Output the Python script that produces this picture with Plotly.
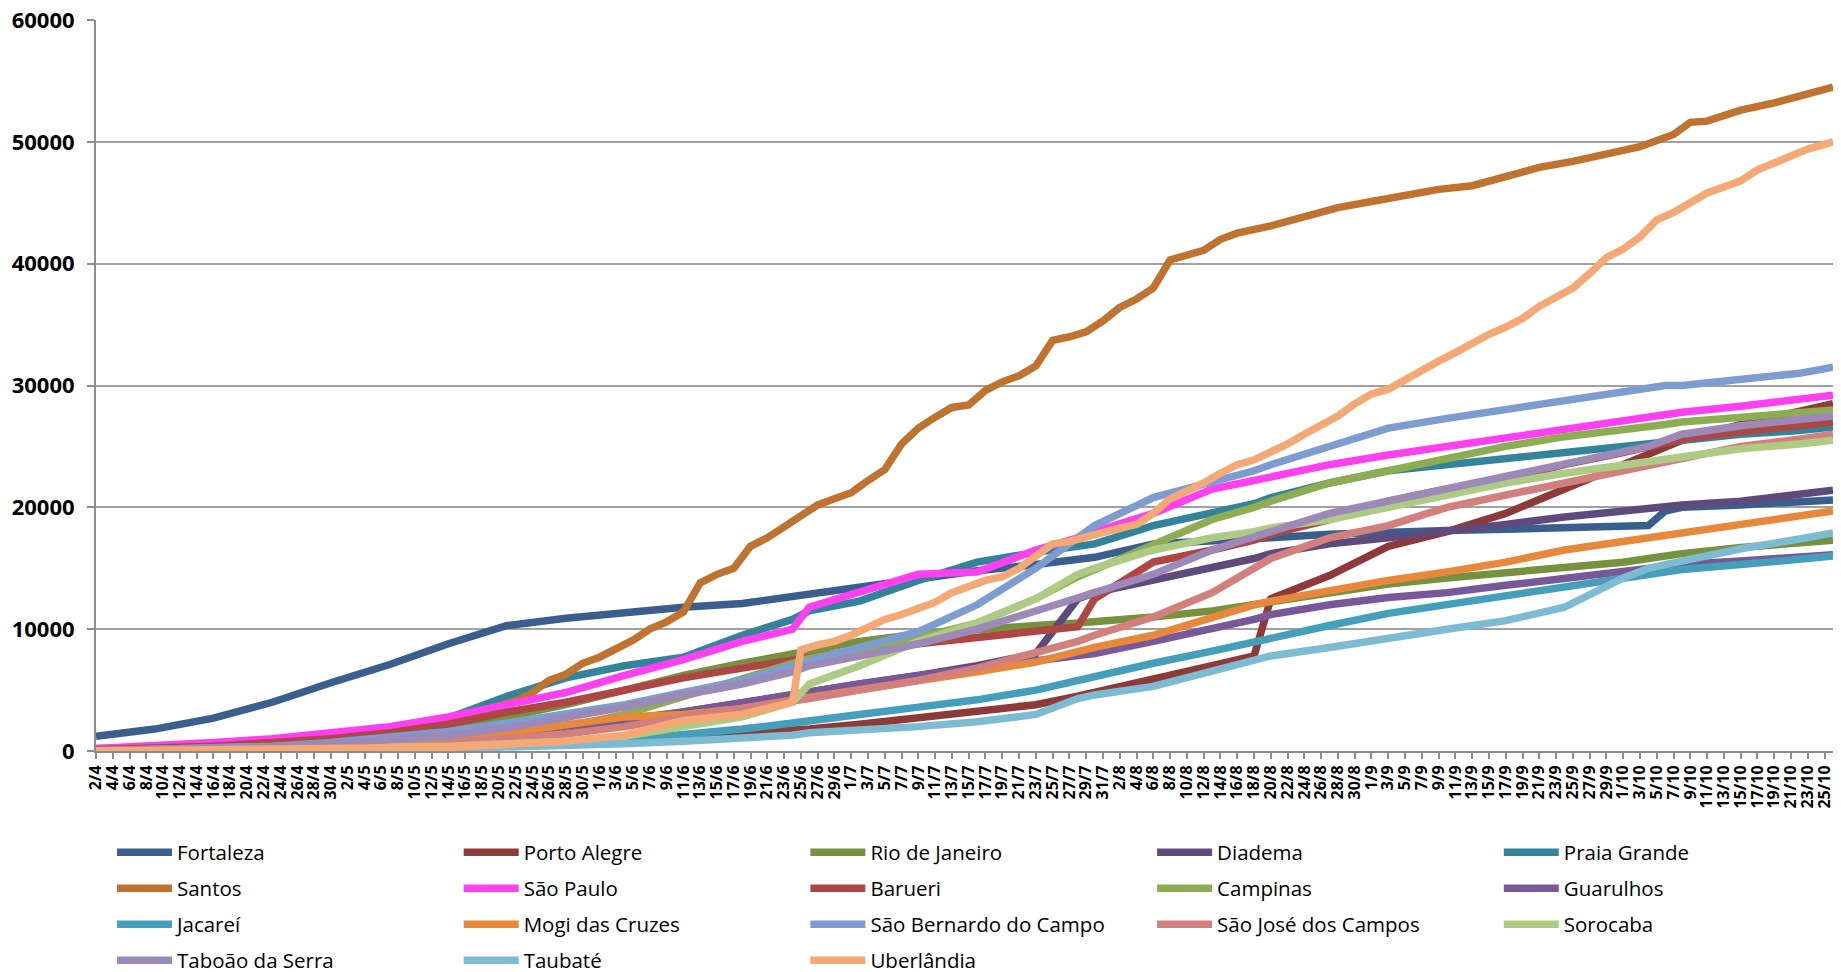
import pandas as pd
import plotly.graph_objects as go

# ---- categories (daily, 2/4 .. 26/10) ----
days = pd.date_range("2020-04-02", "2020-10-26", freq="D")
categories = [f"{d.day}/{d.month}" for d in days]
tick_labels = categories[::2]

sample_dates = ["2/4", "9/4", "16/4", "23/4", "30/4", "7/5", "14/5", "21/5", "28/5", "4/6",
                "11/6", "18/6", "24/6", "26/6", "2/7", "9/7", "16/7", "23/7", "28/7", "30/7",
                "6/8", "13/8", "18/8", "20/8", "27/8", "3/9", "10/9", "17/9", "24/9", "1/10",
                "4/10", "6/10", "8/10", "15/10", "22/10", "26/10"]

santos_dates = ["2/4", "16/4", "30/4", "6/5", "12/5", "16/5", "20/5", "22/5", "24/5", "26/5",
                "28/5", "30/5", "1/6", "3/6", "5/6", "7/6", "9/6", "11/6", "13/6", "15/6",
                "17/6", "19/6", "21/6", "23/6", "25/6", "27/6", "29/6", "1/7", "3/7", "5/7",
                "7/7", "9/7", "11/7", "13/7", "15/7", "17/7", "19/7", "21/7", "23/7", "25/7",
                "27/7", "29/7", "31/7", "2/8", "4/8", "6/8", "8/8", "10/8", "12/8", "14/8",
                "16/8", "20/8", "24/8", "28/8", "1/9", "5/9", "9/9", "13/9", "17/9", "21/9",
                "25/9", "29/9", "3/10", "7/10", "9/10", "11/10", "13/10", "15/10", "19/10", "23/10",
                "26/10"]
santos = [200, 400, 1000, 1300, 2100, 2900, 3600, 4100, 4800, 5800,
          6300, 7200, 7700, 8400, 9100, 10000, 10600, 11400, 13800, 14500,
          15000, 16800, 17500, 18400, 19300, 20200, 20700, 21200, 22200, 23100,
          25200, 26500, 27400, 28200, 28400, 29600, 30300, 30800, 31600, 33700,
          34000, 34400, 35300, 36400, 37100, 38000, 40300, 40700, 41100, 42000,
          42500, 43100, 43900, 44600, 45100, 45600, 46100, 46400, 47200, 47900,
          48400, 49000, 49600, 50600, 51600, 51700, 52200, 52600, 53200, 53900,
          54500]

uberlandia_dates = ["2/4", "16/4", "30/4", "14/5", "28/5", "4/6", "11/6", "18/6", "24/6", "25/6",
                    "27/6", "29/6", "1/7", "3/7", "5/7", "7/7", "9/7", "11/7", "13/7", "15/7",
                    "17/7", "19/7", "21/7", "23/7", "25/7", "27/7", "29/7", "31/7", "2/8", "4/8",
                    "6/8", "8/8", "10/8", "12/8", "14/8", "16/8", "18/8", "20/8", "22/8", "24/8",
                    "26/8", "28/8", "30/8", "1/9", "3/9", "5/9", "7/9", "9/9", "11/9", "13/9",
                    "15/9", "17/9", "19/9", "21/9", "23/9", "25/9", "27/9", "29/9", "1/10", "3/10",
                    "5/10", "7/10", "9/10", "11/10", "13/10", "15/10", "17/10", "19/10", "21/10", "23/10",
                    "26/10"]
uberlandia = [0, 50, 100, 300, 800, 1300, 2500, 3000, 4000, 8300,
              8700, 9000, 9500, 10200, 10800, 11200, 11700, 12200, 13000, 13500,
              14000, 14300, 15000, 16000, 17000, 17200, 17600, 18000, 18300, 18600,
              19500, 20700, 21300, 22000, 22800, 23500, 23900, 24500, 25200, 26000,
              26700, 27500, 28500, 29300, 29700, 30500, 31300, 32000, 32700, 33500,
              34200, 34800, 35500, 36500, 37300, 38000, 39200, 40500, 41200, 42200,
              43600, 44200, 45000, 45800, 46300, 46800, 47700, 48300, 48800, 49400,
              50000]

names = ["Fortaleza", "Porto Alegre", "Rio de Janeiro", "Diadema", "Praia Grande",
         "Santos", "São Paulo", "Barueri", "Campinas", "Guarulhos",
         "Jacareí", "Mogi das Cruzes", "São Bernardo do Campo", "São José dos Campos", "Sorocaba",
         "Taboão da Serra", "Taubaté", "Uberlândia"]

fortaleza = [1200, 1800, 2700, 4000, 5600, 7100, 8800, 10300, 10900, 11400, 11800, 12100, 12700, 12900, 13400, 14200, 14800, 15300, 15700, 15900, 17000, 17200, 17400, 17500, 17800, 18000, 18100, 18200, 18300, 18400, 18500, 19700, 20000, 20200, 20400, 20600]
porto_alegre = [0, 0, 50, 100, 150, 200, 300, 400, 600, 800, 1100, 1400, 1700, 1800, 2200, 2700, 3200, 3800, 4500, 4800, 5800, 7000, 7800, 12500, 14400, 16800, 18000, 19500, 21500, 23500, 24300, 25000, 25500, 26800, 27800, 28500]
rio = [100, 200, 300, 500, 800, 1200, 1800, 2800, 3800, 5000, 6200, 7200, 8000, 8300, 9000, 9600, 10000, 10300, 10500, 10600, 11000, 11500, 12000, 12200, 13000, 13700, 14200, 14600, 15000, 15500, 15800, 16000, 16200, 16700, 17000, 17300]
diadema = [0, 50, 100, 200, 400, 600, 900, 1300, 1800, 2400, 3200, 4000, 4600, 4800, 5500, 6200, 7000, 8000, 12500, 13000, 14000, 15000, 15800, 16200, 17000, 17500, 18000, 18600, 19200, 19700, 20000, 20000, 20200, 20500, 21000, 21400]
praia_grande = [100, 200, 400, 700, 1100, 1700, 2700, 4500, 6000, 7000, 7700, 9500, 10800, 11500, 12300, 14000, 15500, 16300, 16800, 17000, 18500, 19500, 20300, 20800, 22000, 23000, 23500, 24000, 24600, 25000, 25200, 25400, 25500, 26000, 26300, 26600]
sao_paulo = [200, 400, 700, 1000, 1500, 2000, 2800, 3800, 4800, 6200, 7500, 9000, 10000, 11800, 13000, 14500, 14700, 16500, 17500, 18000, 19500, 21500, 22200, 22500, 23500, 24300, 25000, 25800, 26500, 27200, 27400, 27600, 27800, 28300, 28900, 29200]
barueri = [100, 200, 400, 700, 1000, 1500, 2200, 3200, 4000, 5000, 6000, 6800, 7500, 7700, 8300, 8800, 9300, 9800, 10200, 12500, 15500, 16500, 17300, 17800, 19000, 20500, 21500, 22300, 23500, 24500, 25000, 25300, 25600, 26200, 26700, 27000]
campinas = [50, 100, 200, 300, 500, 700, 1000, 1400, 2000, 3000, 4500, 6000, 7300, 7600, 8300, 9300, 10500, 12500, 14300, 14900, 17000, 19000, 20000, 20500, 22000, 23000, 24000, 25000, 25800, 26300, 26600, 26800, 27000, 27400, 27800, 28000]
guarulhos = [50, 100, 200, 300, 500, 700, 1000, 1500, 2000, 2600, 3200, 4000, 4600, 4800, 5500, 6200, 6800, 7300, 7800, 8000, 9000, 10000, 10800, 11200, 12000, 12600, 13000, 13600, 14200, 14800, 15000, 15100, 15300, 15600, 15900, 16100]
jacarei = [0, 0, 50, 100, 150, 200, 300, 400, 600, 900, 1300, 1800, 2300, 2500, 3000, 3600, 4200, 5000, 5800, 6000, 7200, 8200, 9000, 9300, 10300, 11300, 12000, 12800, 13500, 14200, 14500, 14700, 14900, 15300, 15700, 16000]
mogi = [0, 50, 100, 200, 400, 700, 1000, 1500, 2200, 2800, 3000, 3500, 4200, 4400, 5000, 5800, 6500, 7300, 8200, 8500, 9500, 11000, 12000, 12300, 13200, 14000, 14700, 15500, 16500, 17200, 17600, 17800, 18000, 18700, 19300, 19700]
sao_bernardo = [0, 100, 200, 400, 700, 1100, 1600, 2300, 3000, 3800, 4800, 5800, 7000, 7400, 8500, 9800, 12000, 15000, 17500, 18500, 20800, 22000, 23000, 23500, 25000, 26500, 27300, 28000, 28800, 29500, 29800, 30000, 30000, 30500, 31000, 31500]
sao_jose = [0, 50, 100, 200, 300, 500, 700, 1000, 1400, 2000, 2800, 3500, 4000, 4300, 5000, 5800, 6800, 8000, 9000, 9500, 11000, 13000, 15000, 15800, 17500, 18500, 20000, 21000, 22000, 23000, 23500, 23800, 24000, 25000, 25600, 26000]
sorocaba = [0, 50, 100, 150, 200, 300, 400, 600, 800, 1200, 2000, 2800, 4000, 5500, 7000, 9000, 10500, 12500, 14500, 15000, 16500, 17500, 18000, 18300, 19000, 20000, 21000, 22000, 22800, 23500, 23800, 24000, 24200, 24800, 25200, 25500]
taboao = [50, 100, 200, 350, 600, 900, 1300, 1900, 2700, 3600, 4600, 5500, 6500, 7000, 7800, 8800, 10000, 11500, 12500, 13000, 14500, 16500, 17500, 18000, 19500, 20500, 21500, 22500, 23500, 24500, 25000, 25500, 26000, 26700, 27200, 27500]
taubate = [0, 0, 0, 50, 100, 150, 200, 300, 400, 600, 800, 1000, 1300, 1500, 1700, 2000, 2400, 3000, 4300, 4600, 5300, 6500, 7300, 7800, 8500, 9300, 10000, 10700, 11800, 14200, 15000, 15300, 15600, 16600, 17400, 17900]

series_x = [sample_dates] * 5 + [santos_dates] + [sample_dates] * 11 + [uberlandia_dates]
series = [fortaleza, porto_alegre, rio, diadema, praia_grande,
          santos, sao_paulo, barueri, campinas, guarulhos,
          jacarei, mogi, sao_bernardo, sao_jose, sorocaba,
          taboao, taubate, uberlandia]

colors = ["#3A5F8E", "#8E3A38", "#77913F", "#5E4A7C", "#33849A",
          "#C0722F", "#FF40F0", "#AE4744", "#8EAD52", "#77589A",
          "#44A0BA", "#E8883A", "#7D9CCF", "#D2807E", "#AECB84",
          "#9C89B8", "#7CBBD2", "#F6A874"]

FONT = "Open Sans"
N_COLS = 5
LEG_FS = 20.5

fig = go.Figure()
for i, (nm, xs, vals, col) in enumerate(zip(names, series_x, series, colors)):
    k = i % N_COLS
    fig.add_trace(go.Scatter(
        x=xs, y=vals, name=nm, mode="lines",
        line=dict(color=col, width=7.5),
        legend="legend" if k == 0 else f"legend{k + 1}",
        legendgroup=nm,
    ))

leg_common = dict(orientation="v", yanchor="top", xanchor="left", y=-0.1115,
                  font=dict(family=FONT, size=LEG_FS, color="#000000"),
                  tracegroupgap=6.3, itemwidth=55, bgcolor="rgba(0,0,0,0)")
legends = {}
for k in range(N_COLS):
    key = "legend" if k == 0 else f"legend{k + 1}"
    legends[key] = dict(leg_common, x=0.0092 + k * 0.1996)

# page body has an 8px margin: figure is 1833x964 so it fits the 1841x972 window
fig.update_layout(
    width=1833, height=964,
    margin=dict(l=88, r=8, t=12, b=221, autoexpand=False),
    paper_bgcolor="white", plot_bgcolor="white",
    showlegend=True,
    **legends,
    xaxis=dict(
        type="category", categoryorder="array", categoryarray=categories,
        range=[0, len(categories) - 1],
        tickmode="array", tickvals=tick_labels, ticktext=tick_labels,
        tickangle=-90, ticks="outside", ticklen=6, tickcolor="#8C8C8C", tickwidth=1.5,
        tickfont=dict(family=FONT, size=16, color="#000000", weight="bold"),
        showline=True, linecolor="#8C8C8C", linewidth=2,
        showgrid=False, zeroline=False,
    ),
    yaxis=dict(
        range=[0, 60000], tickmode="array", tickvals=[0, 10000, 20000, 30000, 40000, 50000, 60000],
        ticktext=["0", "10000", "20000", "30000", "40000", "50000", "60000"],
        ticks="outside", ticklen=7, tickcolor="#8C8C8C", tickwidth=1.5,
        tickfont=dict(family=FONT, size=22, color="#000000", weight="bold"),
        ticklabelstandoff=8, ticklabeloverflow="allow",
        showline=True, linecolor="#8C8C8C", linewidth=2,
        showgrid=True, gridcolor="#A0A0A0", gridwidth=1.5, zeroline=False,
    ),
)

fig.write_html("out.html")
